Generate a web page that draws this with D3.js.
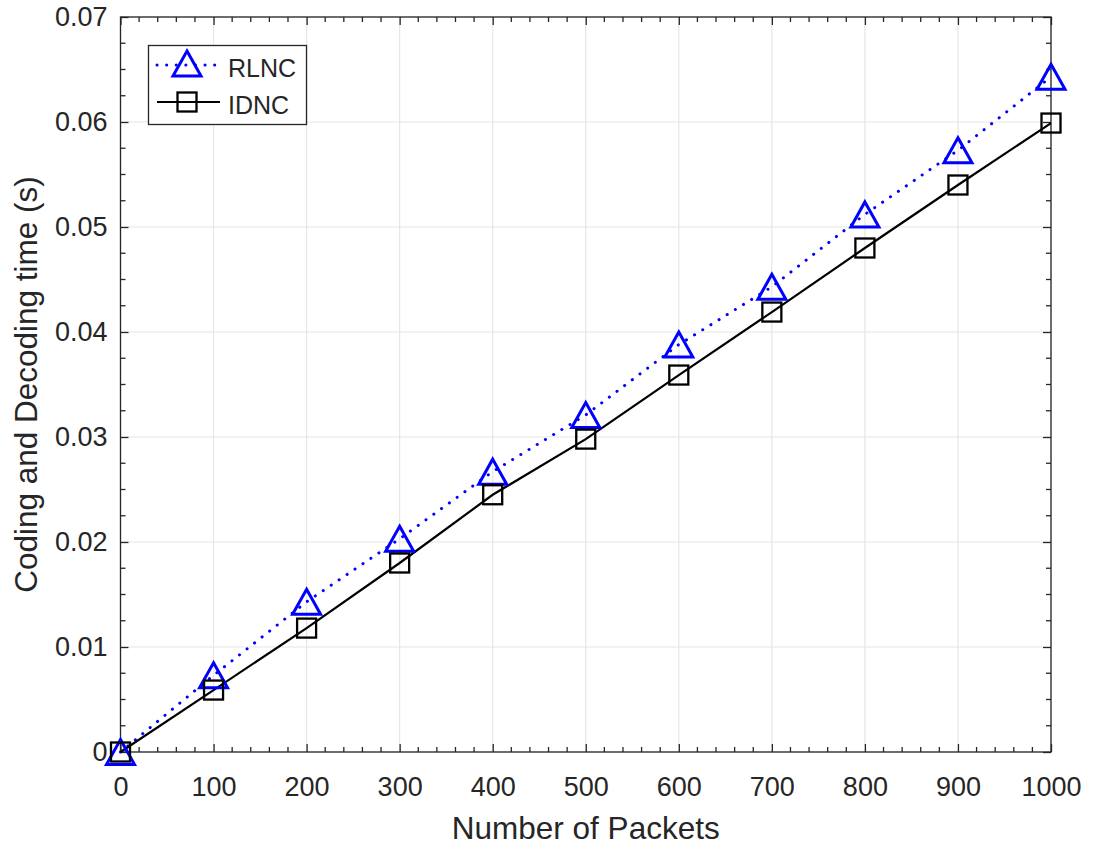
<!DOCTYPE html>
<html>
<head>
<meta charset="utf-8">
<script src="https://cdn.jsdelivr.net/npm/d3@7"></script>
<style>
  html, body { margin: 0; padding: 0; background: #fff; }
  svg { display: block; }
  text { font-family: "Liberation Sans", Arial, Helvetica, sans-serif; fill: #262626; }
</style>
</head>
<body>
<svg id="chart" width="1097" height="848"></svg>
<script>
// ---- data ----
const packets = [0, 100, 200, 300, 400, 500, 600, 700, 800, 900, 1000];
const rlnc = [0, 0.0073, 0.0143, 0.0203, 0.0267, 0.0321, 0.0388, 0.0443, 0.0512, 0.0573, 0.0643];
const idnc = [0, 0.0059, 0.0118, 0.0180, 0.0245, 0.0298, 0.0359, 0.0419, 0.0480, 0.0540, 0.0599];
const xTicks = [0, 100, 200, 300, 400, 500, 600, 700, 800, 900, 1000];
const yTicks = [0, 0.01, 0.02, 0.03, 0.04, 0.05, 0.06, 0.07];
const yTickLabels = ["0", "0.01", "0.02", "0.03", "0.04", "0.05", "0.06", "0.07"];
const seriesNames = ["RLNC", "IDNC"];
const xLabel = "Number of Packets";
const yLabel = "Coding and Decoding time (s)";

(function () {
// ---- layout ----
const svg = d3.select("#chart");
const L = 120.5, R = 1051, T = 17, B = 752;
const x = d3.scaleLinear().domain([0, 1000]).range([L, R]);
const y = d3.scaleLinear().domain([0, 0.07]).range([B, T]);
const axisColor = "#262626";
const tickFont = 27;
const labelFont = 31.5;

// grid
const grid = svg.append("g");
grid.selectAll("line.gx").data(xTicks).join("line")
  .attr("x1", d => x(d)).attr("x2", d => x(d)).attr("y1", T).attr("y2", B)
  .attr("stroke", "#e6e6e6").attr("stroke-width", 1.2);
grid.selectAll("line.gy").data(yTicks).join("line")
  .attr("y1", d => y(d)).attr("y2", d => y(d)).attr("x1", L).attr("x2", R)
  .attr("stroke", "#e6e6e6").attr("stroke-width", 1.2);

// axes (ticks inward on all four sides)
const xMinor = d3.range(0, 1001, 20).filter(v => v % 100 !== 0);
const yMinor = d3.range(0, 0.07001, 0.0025).filter(v => Math.abs(v / 0.01 - Math.round(v / 0.01)) > 1e-6);

function styleAxis(g) {
  g.select(".domain").remove();
  g.selectAll(".tick line").attr("stroke", axisColor).attr("stroke-width", 1.3);
}
const axB = svg.append("g").attr("transform", `translate(0,${B})`)
  .call(d3.axisBottom(x).tickValues(xTicks).tickSize(-8).tickPadding(25).tickFormat(d3.format("d")));
styleAxis(axB);
axB.selectAll("text").attr("font-size", tickFont).attr("fill", axisColor).style("font-family", '"Liberation Sans", Arial, sans-serif');
const axT = svg.append("g").attr("transform", `translate(0,${T})`)
  .call(d3.axisTop(x).tickValues(xTicks).tickSize(-8).tickFormat(""));
styleAxis(axT);
const axL = svg.append("g").attr("transform", `translate(${L},0)`)
  .call(d3.axisLeft(y).tickValues(yTicks).tickSize(-8).tickPadding(13).tickFormat((d, i) => yTickLabels[i]));
styleAxis(axL);
axL.selectAll("text").attr("font-size", tickFont).attr("fill", axisColor).style("font-family", '"Liberation Sans", Arial, sans-serif');
const axR = svg.append("g").attr("transform", `translate(${R},0)`)
  .call(d3.axisRight(y).tickValues(yTicks).tickSize(-8).tickFormat(""));
styleAxis(axR);

// minor ticks
const minor = svg.append("g").attr("stroke", axisColor).attr("stroke-width", 1.3);
minor.selectAll("line.mxb").data(xMinor).join("line")
  .attr("x1", d => x(d)).attr("x2", d => x(d)).attr("y1", B).attr("y2", B - 5);
minor.selectAll("line.mxt").data(xMinor).join("line")
  .attr("x1", d => x(d)).attr("x2", d => x(d)).attr("y1", T).attr("y2", T + 5);
minor.selectAll("line.myl").data(yMinor).join("line")
  .attr("y1", d => y(d)).attr("y2", d => y(d)).attr("x1", L).attr("x2", L + 5);
minor.selectAll("line.myr").data(yMinor).join("line")
  .attr("y1", d => y(d)).attr("y2", d => y(d)).attr("x1", R).attr("x2", R - 5);

// box
svg.append("rect").attr("x", L).attr("y", T).attr("width", R - L).attr("height", B - T)
  .attr("fill", "none").attr("stroke", axisColor).attr("stroke-width", 1.3);

// axis labels
svg.append("text").attr("x", (L + R) / 2).attr("y", 839)
  .attr("text-anchor", "middle").attr("font-size", labelFont).text(xLabel);
svg.append("text").attr("transform", `translate(37,${(T + B) / 2}) rotate(-90)`)
  .attr("text-anchor", "middle").attr("font-size", labelFont).text(yLabel);

// series
const line = d3.line().x(d => x(d[0])).y(d => y(d[1]));
const rData = packets.map((p, i) => [p, rlnc[i]]);
const iData = packets.map((p, i) => [p, idnc[i]]);

const blue = "#0000ff";
function triPath(cx, cy) {
  const w = 14, h = 12.5;
  return `M${cx},${cy - h} L${cx + w},${cy + h} L${cx - w},${cy + h} Z`;
}

svg.append("path").datum(rData).attr("d", line).attr("fill", "none")
  .attr("stroke", blue).attr("stroke-width", 3).attr("stroke-linecap", "round")
  .attr("stroke-dasharray", "0.1,9.5");
svg.append("path").datum(iData).attr("d", line).attr("fill", "none")
  .attr("stroke", "#000").attr("stroke-width", 2.2);

svg.append("g").selectAll("path").data(rData).join("path")
  .attr("d", d => triPath(x(d[0]), y(d[1])))
  .attr("fill", "none").attr("stroke", blue).attr("stroke-width", 3).attr("stroke-linejoin", "miter");
svg.append("g").selectAll("rect").data(iData).join("rect")
  .attr("x", d => x(d[0]) - 9.5).attr("y", d => y(d[1]) - 9.5)
  .attr("width", 19).attr("height", 19)
  .attr("fill", "none").attr("stroke", "#000").attr("stroke-width", 2.3);

// legend
const lg = svg.append("g");
lg.append("rect").attr("x", 148.5).attr("y", 45.5).attr("width", 158).attr("height", 79)
  .attr("fill", "#fff").attr("stroke", axisColor).attr("stroke-width", 1.3);
const rows = [{ name: seriesNames[0], y: 65 }, { name: seriesNames[1], y: 102 }];
lg.append("line").attr("x1", 157).attr("x2", 219).attr("y1", rows[0].y).attr("y2", rows[0].y)
  .attr("stroke", blue).attr("stroke-width", 3).attr("stroke-linecap", "round").attr("stroke-dasharray", "0.1,9.5");
lg.append("path").attr("d", triPath(187, rows[0].y - 1.5)).attr("fill", "none").attr("stroke", blue).attr("stroke-width", 3);
lg.append("line").attr("x1", 157).attr("x2", 220).attr("y1", rows[1].y).attr("y2", rows[1].y)
  .attr("stroke", "#000").attr("stroke-width", 2.2);
lg.append("rect").attr("x", 187 - 9.5).attr("y", rows[1].y - 9.5).attr("width", 19).attr("height", 19)
  .attr("fill", "none").attr("stroke", "#000").attr("stroke-width", 2.3);
rows.forEach(r => {
  lg.append("text").attr("x", 228).attr("y", r.y + 11.5).attr("font-size", 25).text(r.name);
});
})();
</script>
</body>
</html>
